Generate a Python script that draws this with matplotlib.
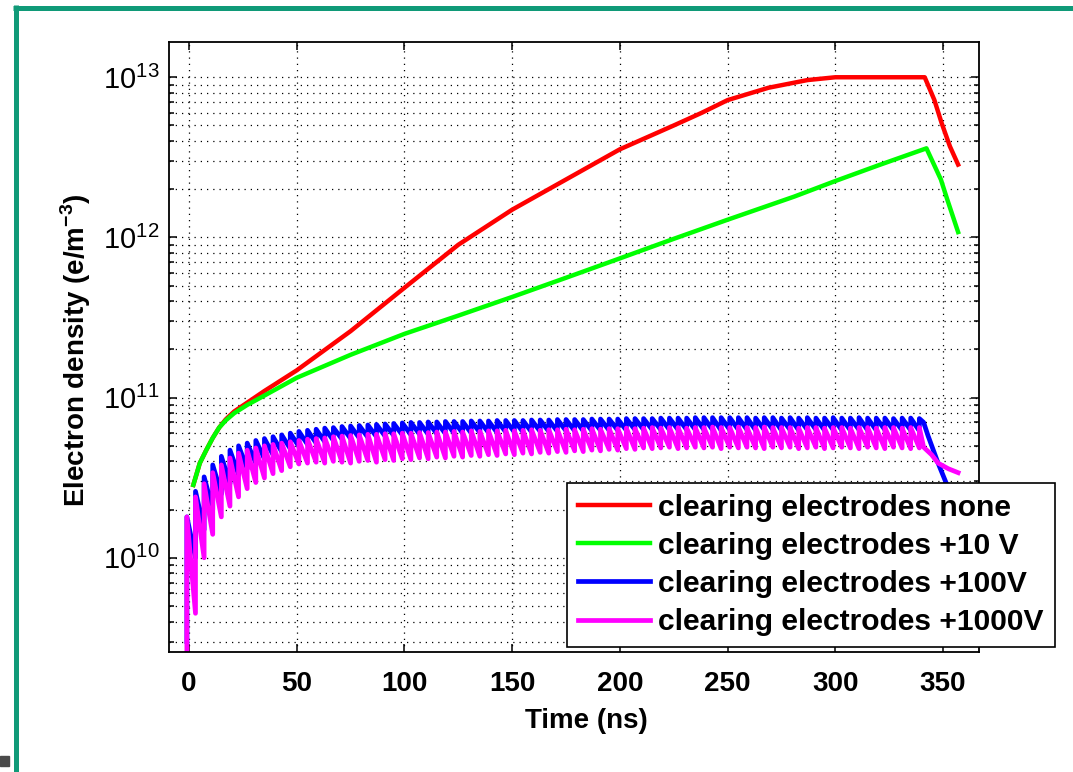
import numpy as np
import matplotlib.pyplot as plt
from matplotlib.lines import Line2D
from matplotlib.patches import Rectangle
from matplotlib.ticker import NullLocator, LogLocator

plt.rcParams['font.family'] = 'Liberation Sans'
plt.rcParams['mathtext.fontset'] = 'custom'
plt.rcParams['mathtext.rm'] = 'Liberation Sans'
plt.rcParams['mathtext.bf'] = 'Liberation Sans:bold'

E10 = 1e10  # densities below are in units of 1e10 e/m^3

# smooth curves
red_t = [2, 5, 8, 11, 14, 17, 21, 27, 35, 50, 75, 100, 125, 150, 175, 200, 225,
         238, 250, 269, 287, 300, 320, 341.5, 346, 349.3, 353.2, 357]
red_n = [2.85, 3.9, 4.7, 5.6, 6.5, 7.3, 8.2, 9.3, 11, 14.8, 26, 48.5, 90, 149, 230,
         355, 500, 600, 720, 860, 960, 1000, 1000, 1000, 720, 520, 370, 285]

green_t = [2, 5, 8, 11, 14, 17, 21, 27, 35, 50, 75, 100, 125, 150, 175, 200, 225,
           250, 281, 300, 320, 342.3, 349, 352, 357]
green_n = [2.85, 3.9, 4.7, 5.6, 6.5, 7.2, 8.0, 9.0, 10.3, 13.3, 18.5, 25, 32.5, 42.5,
           56, 74, 98, 129, 180, 225, 282, 360, 230, 172, 108]

# bunch passages (ns) for the oscillating curves
t_bunch = np.arange(-1, 340, 4)

blue_hi = [1.8, 2.6, 3.2, 3.8, 4.3, 4.7, 5.0, 5.2, 5.4, 5.55,
           5.7, 5.85, 6.0, 6.15, 6.25, 6.35, 6.45, 6.5, 6.6, 6.65,
           6.7, 6.75, 6.8, 6.85, 6.9, 6.95, 7.0, 7.0, 7.05, 7.05,
           7.1, 7.1, 7.1, 7.15, 7.15, 7.15, 7.2, 7.2, 7.2, 7.2,
           7.25, 7.25, 7.25, 7.3, 7.3, 7.3, 7.3, 7.35, 7.35, 7.35,
           7.35, 7.4, 7.4, 7.4, 7.4, 7.45, 7.45, 7.45, 7.45, 7.5,
           7.5, 7.5, 7.5, 7.5, 7.5, 7.5, 7.45, 7.5, 7.5, 7.45,
           7.5, 7.45, 7.5, 7.45, 7.45, 7.5, 7.45, 7.45, 7.5, 7.45,
           7.45, 7.45, 7.4, 7.45, 7.45, 7.4]
blue_lo = [0.3, 1.0, 1.5, 2.0, 2.5, 2.9, 3.3, 3.6, 3.9, 4.15,
           4.4, 4.6, 4.8, 4.95, 5.1, 5.2, 5.3, 5.4, 5.5, 5.55,
           5.6, 5.65, 5.7, 5.75, 5.8, 5.85, 5.85, 5.9, 5.9, 5.95,
           5.95, 6.0, 6.0, 6.0, 6.05, 6.05, 6.05, 6.1, 6.1, 6.1,
           6.1, 6.15, 6.15, 6.15, 6.2, 6.2, 6.2, 6.2, 6.25, 6.25,
           6.25, 6.25, 6.3, 6.3, 6.3, 6.3, 6.3, 6.3, 6.3, 6.3,
           6.3, 6.3, 6.25, 6.3, 6.3, 6.3, 6.25, 6.3, 6.3, 6.25,
           6.3, 6.25, 6.3, 6.3, 6.25, 6.3, 6.25, 6.25, 6.3, 6.25,
           6.25, 6.3, 6.25, 6.25, 6.25, 6.2]
blue_tail_t = [341, 343, 347.7, 351.6, 355, 357]
blue_tail_n = [7.0, 5.8, 3.9, 2.9, 2.1, 1.7]

mag_hi = [1.8, 2.4, 2.9, 3.4, 3.8, 4.2, 4.5, 4.7, 4.85, 5.0,
          5.1, 5.2, 5.3, 5.4, 5.5, 5.55, 5.6, 5.7, 5.75, 5.8,
          5.85, 5.9, 5.9, 5.95, 5.95, 6.0, 6.0, 6.05, 6.05, 6.1,
          6.1, 6.15, 6.1, 6.2, 6.15, 6.2, 6.2, 6.25, 6.2, 6.25,
          6.3, 6.25, 6.3, 6.3, 6.35, 6.3, 6.35, 6.4, 6.35, 6.4,
          6.4, 6.45, 6.4, 6.45, 6.5, 6.45, 6.5, 6.5, 6.45, 6.5,
          6.5, 6.55, 6.5, 6.5, 6.55, 6.5, 6.5, 6.55, 6.5, 6.5,
          6.5, 6.45, 6.5, 6.5, 6.45, 6.5, 6.5, 6.45, 6.5, 6.5,
          6.45, 6.5, 6.5, 6.45, 6.5, 6.5]
mag_lo = [0.15, 0.45, 1.0, 1.4, 1.8, 2.1, 2.4, 2.7, 2.95, 3.15,
          3.35, 3.5, 3.7, 3.85, 3.9, 3.95, 3.9, 4.0, 3.95, 3.9,
          4.0, 4.05, 3.95, 4.1, 4.05, 4.15, 4.1, 4.2, 4.15, 4.25,
          4.2, 4.3, 4.25, 4.35, 4.3, 4.4, 4.35, 4.45, 4.4, 4.5,
          4.45, 4.55, 4.5, 4.6, 4.55, 4.65, 4.6, 4.7, 4.65, 4.75,
          4.7, 4.8, 4.75, 4.85, 4.8, 4.85, 4.9, 4.8, 4.85, 4.9,
          4.85, 4.9, 4.8, 4.9, 4.85, 4.9, 4.85, 4.8, 4.9, 4.85,
          4.9, 4.8, 4.85, 4.9, 4.8, 4.85, 4.9, 4.85, 4.8, 4.9,
          4.85, 4.8, 4.9, 4.85, 4.8, 4.85]
mag_tail_t = [341, 344.7, 347.7, 352.4, 357]
mag_tail_n = [4.9, 4.4, 3.9, 3.6, 3.4]

labels = ['clearing electrodes none', 'clearing electrodes +10 V',
          'clearing electrodes +100V', 'clearing electrodes +1000V']


def sawtooth(t, lo, hi, tail_t, tail_n):
    # jump up at each bunch, decay until the next one
    x = np.repeat(t, 2)
    y = np.column_stack([lo, hi]).ravel()
    x = np.concatenate([x, tail_t])
    y = np.concatenate([y, tail_n])
    return x, y * E10


fig = plt.figure(figsize=(10.73, 7.72), dpi=100)
ax = fig.add_axes([0.1575, 0.1554, 0.7549, 0.7902])

ax.plot(red_t, np.array(red_n) * E10, color='#ff0000', lw=3.2, label=labels[0])
ax.plot(green_t, np.array(green_n) * E10, color='#00ff00', lw=3.2, label=labels[1])
bx, by = sawtooth(t_bunch, blue_lo, blue_hi, blue_tail_t, blue_tail_n)
ax.plot(bx, by, color='#0000ff', lw=3.4, label=labels[2])
mx, my = sawtooth(t_bunch, mag_lo, mag_hi, mag_tail_t, mag_tail_n)
ax.plot(mx, my, color='#ff00ff', lw=3.4, label=labels[3])

ax.set_yscale('log')
ax.set_xlim(-9.3, 366.7)
ax.set_ylim(2.58e9, 1.66e13)
ax.set_xticks(range(0, 351, 50))
ax.xaxis.set_minor_locator(NullLocator())
ax.yaxis.set_minor_locator(LogLocator(base=10, subs=np.arange(2, 10)))

dots = (0, (1, 4))
ax.grid(which='major', axis='both', ls=dots, color='k', lw=0.9)
ax.grid(which='minor', axis='y', ls=dots, color='k', lw=0.9)

ax.tick_params(which='both', direction='in', top=True, right=True, width=1.1)
ax.tick_params(which='major', length=6)
ax.tick_params(which='minor', length=3.5)
ax.tick_params(axis='x', labelsize=20, pad=14)
ax.tick_params(axis='y', labelsize=21, pad=7)
for lab in ax.get_xticklabels():
    lab.set_fontweight('bold')
for sp in ax.spines.values():
    sp.set_linewidth(1.3)

ax.set_xlabel('Time (ns)', fontsize=20, fontweight='bold')
ax.xaxis.set_label_coords(0.515, -0.092)
ax.set_ylabel(r'Electron density (e/m$^{\mathbf{-3}}$)', fontsize=20, fontweight='bold')
ax.yaxis.set_label_coords(-0.094, 0.495)

leg = ax.legend(loc='upper left', bbox_to_anchor=(567 / 1073, 1 - 483 / 772),
                bbox_transform=fig.transFigure, prop=dict(weight='bold', size=21.6),
                frameon=True, fancybox=False, edgecolor='k', framealpha=1,
                borderaxespad=0, borderpad=0.35, labelspacing=0.34,
                handlelength=2.4, handletextpad=0.3)
leg.get_frame().set_linewidth(1.2)

# slide frame
teal = '#109a78'
fig.add_artist(Line2D([13 / 1073, 1], [1 - 7.5 / 772] * 2, transform=fig.transFigure,
                      color=teal, lw=3.6, solid_capstyle='butt'))
fig.add_artist(Line2D([15.5 / 1073] * 2, [0, 1 - 5 / 772], transform=fig.transFigure,
                      color=teal, lw=3.6, solid_capstyle='butt'))
fig.add_artist(Rectangle((0, 1 - 766 / 772), 9 / 1073, 10 / 772,
                         transform=fig.transFigure, color='#4a4a4a'))

fig.savefig('out.png', dpi=100)
